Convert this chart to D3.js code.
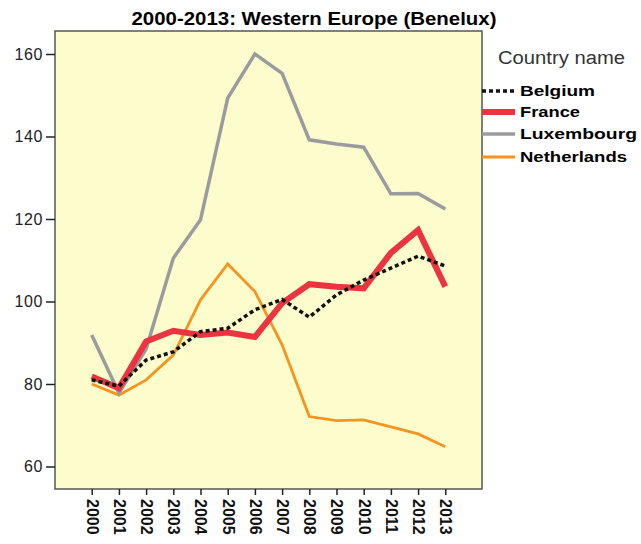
<!DOCTYPE html>
<html>
<head>
<meta charset="utf-8">
<script src="https://cdn.jsdelivr.net/npm/d3@7"></script>
<style>
  body { margin: 0; background: #fff; }
  text { font-family: "Liberation Sans", Arial, sans-serif; }
</style>
</head>
<body>
<div id="chart"></div>
<script>
(function(){
// data
var years = ['2000','2001','2002','2003','2004','2005','2006','2007','2008','2009','2010','2011','2012','2013']
var countries = ['Belgium', 'France', 'Luxembourg', 'Netherlands']
var belgium = [81, 79.5, 85.8, 87.8, 92.7, 93.5, 98, 100.5, 96.2, 101.6, 105.2, 108.1, 111, 108.6]
var france = [81.8, 79, 90.3, 92.9, 91.9, 92.5, 91.4, 99.6, 104.2, 103.6, 103.2, 111.8, 117.3, 103.6]
var luxembourg = [91.9, 77.8, 88.5, 110.5, 119.8, 149.3, 160, 155.3, 139.2, 138.2, 137.4, 126.1, 126.2, 122.4]
var netherlands = [80, 77.3, 81, 87, 100.4, 109.1, 102.4, 89.5, 72.1, 71.1, 71.3, 69.6, 67.9, 64.8]
var yTicks = [60, 80, 100, 120, 140, 160]

var series = [
  { name: 'Belgium', values: belgium, color: '#111', width: 3.5, dash: '4,3' },
  { name: 'France', values: france, color: '#ec3340', width: 6, dash: null },
  { name: 'Luxembourg', values: luxembourg, color: '#9b9b9f', width: 3.5, dash: null },
  { name: 'Netherlands', values: netherlands, color: '#f7941e', width: 2.8, dash: null }
]
// draw order: orange, gray, red, dotted on top
var drawOrder = ['Netherlands', 'Luxembourg', 'France', 'Belgium']

var width = 641, height = 544
var box = { left: 55, right: 482, top: 31, bottom: 489 }

var svg = d3.select('#chart')
  .append('svg')
  .attr('width', width)
  .attr('height', height)

var xScale = d3.scalePoint()
  .domain(years)
  .range([box.left, box.right])
  .padding(1.35)

var yScale = d3.scaleLinear()
  .domain([60, 160])
  .range([466.5, 54])

// plot background
svg.append('rect')
  .attr('x', box.left)
  .attr('y', box.top)
  .attr('width', box.right - box.left)
  .attr('height', box.bottom - box.top)
  .attr('fill', '#fdfccd')
  .attr('stroke', '#555')
  .attr('stroke-width', 1.5)

// title
svg.append('text')
  .attr('x', 314)
  .attr('y', 25)
  .attr('text-anchor', 'middle')
  .attr('font-size', 19)
  .attr('font-weight', 'bold')
  .attr('textLength', 365)
  .attr('lengthAdjust', 'spacingAndGlyphs')
  .text('2000-2013: Western Europe (Benelux)')

// y axis
var yAxis = svg.append('g')
  .attr('transform', 'translate(' + box.left + ',0)')
  .call(d3.axisLeft(yScale).tickValues(yTicks).tickSize(9).tickPadding(3))
yAxis.select('.domain').remove()
yAxis.selectAll('line').attr('stroke', '#222').attr('stroke-width', 1.5)
yAxis.selectAll('text')
  .attr('font-size', 16)
  .attr('fill', '#222')
  .style('letter-spacing', '0.6px')

// x axis
var xAxis = svg.append('g')
  .attr('transform', 'translate(0,' + box.bottom + ')')
  .call(d3.axisBottom(xScale).tickSize(6).tickSizeOuter(0))
xAxis.select('.domain').remove()
xAxis.selectAll('line').attr('stroke', '#222').attr('stroke-width', 1.5)
xAxis.selectAll('text')
  .attr('font-size', 16)
  .attr('font-weight', 'bold')
  .attr('fill', '#111')
  .attr('transform', 'rotate(90)')
  .attr('x', 10)
  .attr('y', 0)
  .attr('dy', '0.35em')
  .style('text-anchor', 'start')

// lines
var line = d3.line()
  .x(function(d, i){ return xScale(years[i]) })
  .y(function(d){ return yScale(d) })

drawOrder.forEach(function(name){
  var s = series.find(function(d){ return d.name === name })
  svg.append('path')
    .datum(s.values)
    .attr('d', line)
    .attr('fill', 'none')
    .attr('stroke', s.color)
    .attr('stroke-width', s.width)
    .attr('stroke-dasharray', s.dash)
    .attr('stroke-linejoin', 'miter')
})

// legend
svg.append('text')
  .attr('x', 498)
  .attr('y', 64)
  .attr('font-size', 18)
  .attr('fill', '#333')
  .attr('textLength', 127)
  .attr('lengthAdjust', 'spacingAndGlyphs')
  .text('Country name')

var legendY = [91, 112, 134, 157]
var legendLen = [75, 60, 117, 107]

var legend = svg.selectAll('.legend')
  .data(series)
  .enter()
  .append('g')
  .attr('class', 'legend')
  .attr('transform', function(d, i){ return 'translate(0,' + legendY[i] + ')' })

legend.append('line')
  .attr('x1', 482)
  .attr('x2', 515)
  .attr('y1', 0)
  .attr('y2', 0)
  .attr('stroke', function(d){ return d.color })
  .attr('stroke-width', function(d){ return d.width })
  .attr('stroke-dasharray', function(d){ return d.dash })

legend.append('text')
  .attr('x', 520)
  .attr('y', 0)
  .attr('dy', '0.36em')
  .attr('font-size', 15)
  .attr('font-weight', 'bold')
  .attr('textLength', function(d, i){ return legendLen[i] })
  .attr('lengthAdjust', 'spacingAndGlyphs')
  .text(function(d){ return d.name })

})()
</script>
</body>
</html>
